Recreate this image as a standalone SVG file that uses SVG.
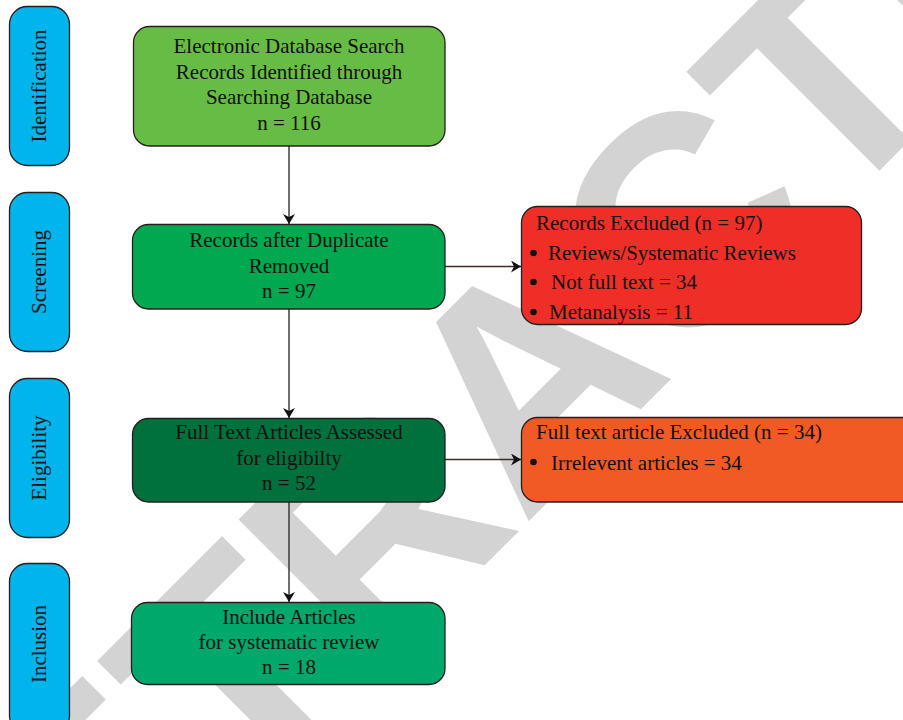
<svg xmlns="http://www.w3.org/2000/svg" width="903" height="720" viewBox="0 0 903 720">
  <style>
    .wm { font-family: "Liberation Sans", Arial, sans-serif; font-weight: bold; font-size: 300px; fill: #d3d3d3; }
    .stage rect { fill: #00b4ec; stroke: #231f20; stroke-width: 1.3; }
    .box rect { stroke: #231f20; stroke-width: 1.3; }
    .t { font-family: "Liberation Serif", "Times New Roman", serif; font-size: 21px; fill: #111111; }
    .c { text-anchor: middle; }
    .conn line { stroke: #231f20; stroke-width: 1.3; }
    .conn line.h { stroke: #3e2d28; }
    .bul { fill: #111111; }
  </style>
  <defs>
    <marker id="ah" viewBox="0 0 10 12" markerWidth="10" markerHeight="12" refX="10" refY="6" orient="auto" markerUnits="userSpaceOnUse">
      <path d="M0,0 L10,6 L0,12 L3,6 z" fill="#111111"/>
    </marker>
  </defs>
  <rect x="0" y="0" width="903" height="720" fill="#ffffff"/>

  <!-- watermark -->
  <text class="wm" transform="translate(-54,1104) rotate(-45)">RETRACTED</text>

  <!-- stage labels -->
  <g id="stage-identification" class="stage">
    <rect x="9.5" y="6.5" width="60" height="159" rx="18"/>
    <text class="t c" transform="translate(45.5,86) rotate(-90)">Identification</text>
  </g>
  <g id="stage-screening" class="stage">
    <rect x="9.5" y="192.5" width="60" height="159" rx="18"/>
    <text class="t c" transform="translate(45.5,272) rotate(-90)">Screening</text>
  </g>
  <g id="stage-eligibility" class="stage">
    <rect x="9.5" y="378.5" width="60" height="159" rx="18"/>
    <text class="t c" transform="translate(45.5,458) rotate(-90)">Eligibility</text>
  </g>
  <g id="stage-inclusion" class="stage">
    <rect x="9.5" y="563.5" width="60" height="170" rx="18"/>
    <text class="t c" transform="translate(45.5,644) rotate(-90)">Inclusion</text>
  </g>

  <!-- connectors -->
  <g id="connectors" class="conn">
    <line x1="289" y1="146" x2="289" y2="224" marker-end="url(#ah)"/>
    <line x1="289" y1="309" x2="289" y2="418" marker-end="url(#ah)"/>
    <line x1="289" y1="502" x2="289" y2="602" marker-end="url(#ah)"/>
    <line class="h" x1="445" y1="266.5" x2="521" y2="266.5" marker-end="url(#ah)"/>
    <line class="h" x1="445" y1="459.5" x2="521" y2="459.5" marker-end="url(#ah)"/>
  </g>

  <!-- nodes -->
  <g id="node-search" class="box">
    <rect x="133.5" y="26.5" width="311.5" height="119.5" rx="16" fill="#67bc45"/>
    <text class="t c" x="289" y="53">Electronic Database Search</text>
    <text class="t c" x="289" y="78.5">Records Identified through</text>
    <text class="t c" x="289" y="104">Searching Database</text>
    <text class="t c" x="289" y="129.5">n = 116</text>
  </g>
  <g id="node-duplicates" class="box">
    <rect x="132.5" y="224.5" width="312.5" height="84.5" rx="16" fill="#00a84f"/>
    <text class="t c" x="289" y="247">Records after Duplicate</text>
    <text class="t c" x="289" y="272.5">Removed</text>
    <text class="t c" x="289" y="298">n = 97</text>
  </g>
  <g id="node-fulltext" class="box">
    <rect x="132.5" y="418.5" width="312.5" height="83.5" rx="16" fill="#00703c"/>
    <text class="t c" x="289" y="439">Full Text Articles Assessed</text>
    <text class="t c" x="289" y="465">for eligibilty</text>
    <text class="t c" x="289" y="490">n = 52</text>
  </g>
  <g id="node-included" class="box">
    <rect x="131.5" y="602.5" width="313.5" height="82" rx="16" fill="#00a86b"/>
    <text class="t c" x="289" y="623.5">Include Articles</text>
    <text class="t c" x="289" y="649">for systematic review</text>
    <text class="t c" x="289" y="674">n = 18</text>
  </g>
  <g id="node-records-excluded" class="box">
    <rect x="521.5" y="206.5" width="340" height="118" rx="16" fill="#ef2e28"/>
    <text class="t" x="536" y="230">Records Excluded (n = 97)</text>
    <circle class="bul" cx="533.5" cy="253" r="3.3"/>
    <text class="t" x="548" y="260">Reviews/Systematic Reviews</text>
    <circle class="bul" cx="533.5" cy="282" r="3.3"/>
    <text class="t" x="551" y="289">Not full text = 34</text>
    <circle class="bul" cx="533.5" cy="312" r="3.3"/>
    <text class="t" x="549" y="319">Metanalysis = 11</text>
  </g>
  <g id="node-fulltext-excluded" class="box">
    <rect x="521.5" y="417.5" width="400" height="84.5" rx="16" fill="#f15a24"/>
    <text class="t" x="536" y="439">Full text article Excluded (n = 34)</text>
    <circle class="bul" cx="533.5" cy="462" r="3.3"/>
    <text class="t" x="551" y="470">Irrelevent articles = 34</text>
  </g>
</svg>
